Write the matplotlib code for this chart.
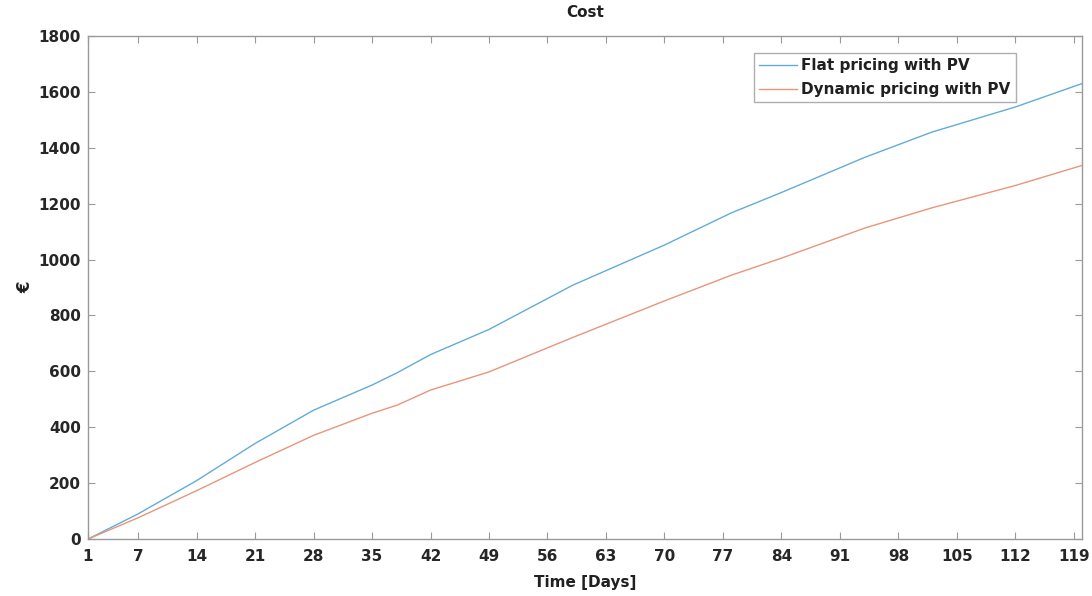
"""
Cumulative cost: flat vs dynamic pricing with PV.
"""

import matplotlib
matplotlib.use('Agg')
import matplotlib.pyplot as plt

# values (cumulative cost in EUR)
days = [1, 7, 14, 21, 28, 35, 38, 42, 49, 59, 70, 78, 84, 94, 102, 112, 120]
flat_pv = [0, 90, 209, 342, 461, 551, 595, 660, 750, 908, 1052, 1167, 1240, 1366, 1456, 1546, 1630]
dynamic_pv = [0, 76, 173, 274, 371, 450, 479, 533, 598, 721, 852, 944, 1005, 1113, 1185, 1265, 1337]

x_ticks = [1, 7, 14, 21, 28, 35, 42, 49, 56, 63, 70, 77, 84, 91, 98, 105, 112, 119]
y_ticks = [0, 200, 400, 600, 800, 1000, 1200, 1400, 1600, 1800]

plt.rcParams['font.family'] = ['DejaVu Sans']
plt.rcParams['font.weight'] = 'bold'

fig = plt.figure(figsize=(10.92, 5.96), dpi=100)
ax = fig.add_axes([0.0806, 0.0956, 0.9104, 0.844])

ax.plot(days, flat_pv, color='#62acd8', linewidth=1.0, label='Flat pricing with PV')
ax.plot(days, dynamic_pv, color='#e8957a', linewidth=1.0, label='Dynamic pricing with PV')

ax.set_xlim(1, 120)
ax.set_ylim(0, 1800)
ax.set_xticks(x_ticks)
ax.set_yticks(y_ticks)
ax.tick_params(direction='in', top=True, right=True, length=5, width=0.8,
               colors='#9a9a9a', labelcolor='#262626', labelsize=11)
ax.tick_params(axis='x', pad=7)
ax.tick_params(axis='y', pad=5)
for s in ax.spines.values():
    s.set_color('#9a9a9a')
    s.set_linewidth(1.0)
for lbl in ax.get_xticklabels() + ax.get_yticklabels():
    lbl.set_fontweight('bold')

ax.set_title('Cost', fontsize=11, fontweight='bold', color='#202020', pad=14)
ax.set_xlabel('Time [Days]', fontsize=11, fontweight='bold', color='#202020', labelpad=8)
ax.set_ylabel('€', fontsize=12, fontweight='bold', color='#202020', labelpad=3)

leg = ax.legend(loc='upper right', bbox_to_anchor=(0.933, 0.966), borderaxespad=0,
                fontsize=11, frameon=True, fancybox=False, handlelength=2.5,
                handletextpad=0.25, borderpad=0.35, labelspacing=0.55)
leg.get_frame().set_edgecolor('#9a9a9a')
leg.get_frame().set_linewidth(1.0)
for t in leg.get_texts():
    t.set_fontweight('bold')
    t.set_color('#202020')

fig.savefig('out.png', dpi=100)
